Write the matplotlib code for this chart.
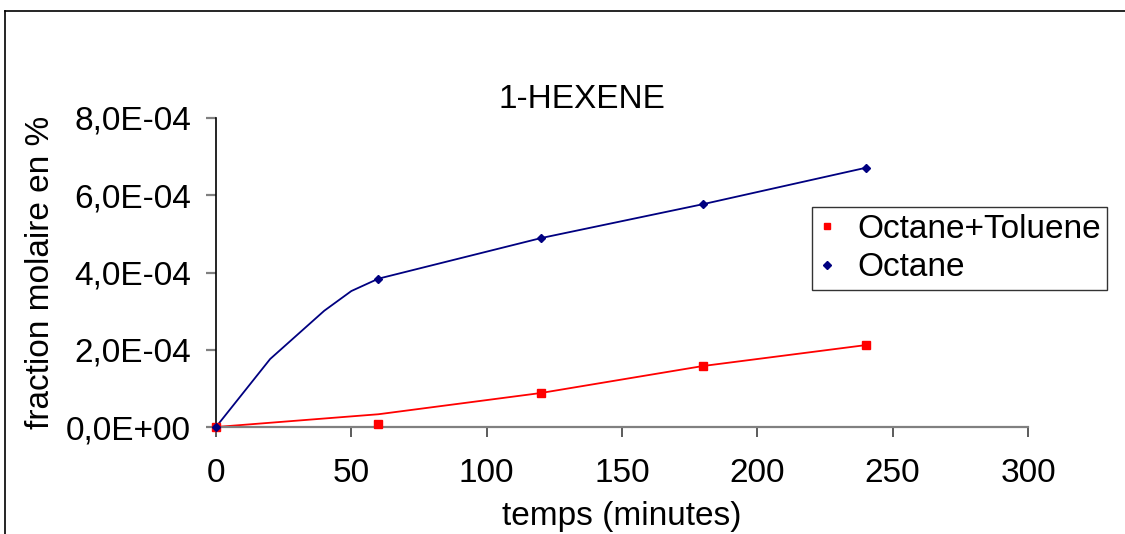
import matplotlib
matplotlib.use('Agg')
import matplotlib.pyplot as plt
from matplotlib.ticker import FuncFormatter, MultipleLocator
from matplotlib.lines import Line2D

plt.rcParams['font.family'] = ['Liberation Sans', 'DejaVu Sans']

# Octane: curve and measured points
octane_line_t = [0, 20, 40, 50, 60, 120, 180, 240]
octane_line_y = [0, 1.76e-4, 3.01e-4, 3.52e-4, 3.84e-4, 4.89e-4, 5.77e-4, 6.71e-4]
octane_pts_t = [0, 60, 120, 180, 240]
octane_pts_y = [0, 3.84e-4, 4.89e-4, 5.77e-4, 6.71e-4]

# Octane+Toluene: curve and measured points
tol_line_t = [0, 60, 120, 180, 240]
tol_line_y = [0, 0.33e-4, 0.88e-4, 1.58e-4, 2.12e-4]
tol_pts_t = [0, 60, 120, 180, 240]
tol_pts_y = [0, 0.08e-4, 0.88e-4, 1.58e-4, 2.12e-4]

W, H = 1125, 534
fig = plt.figure(figsize=(W / 100, H / 100), dpi=100)
ax = fig.add_axes([216 / W, 1 - 427 / H, (1028 - 216) / W, (427 - 118) / H])

fs = 24
red = '#ff0000'
navy = '#000080'

ax.plot(tol_line_t, tol_line_y, color=red, lw=1.3, zorder=2)
ax.plot(octane_line_t, octane_line_y, color=navy, lw=1.3, zorder=2)
ax.plot(tol_pts_t, tol_pts_y, 's', color=red, ms=6, label='Octane+Toluene', zorder=3)
ax.plot(octane_pts_t, octane_pts_y, 'D', color=navy, ms=4.5, label='Octane', zorder=4)

ax.set_xlim(0, 300)
ax.set_ylim(0, 8e-4)
ax.xaxis.set_major_locator(MultipleLocator(50))
ax.yaxis.set_major_locator(MultipleLocator(2e-4))
ax.yaxis.set_major_formatter(FuncFormatter(lambda v, p: f"{v:.1E}".replace('.', ',')))

for s in ['top', 'right']:
    ax.spines[s].set_visible(False)
ax.spines['left'].set_color('black')
ax.spines['bottom'].set_color('#808080')
ax.spines['left'].set_linewidth(1.2)
ax.spines['bottom'].set_linewidth(1.6)
for ln in ax.lines:
    ln.set_clip_on(False)

ax.tick_params(axis='y', direction='out', length=7, width=1.6, color='#808080',
               labelsize=fs, pad=11)
ax.tick_params(axis='x', direction='out', length=7, width=1.2, color='#404040',
               labelsize=fs, pad=15)

ax.set_xlabel('temps (minutes)', fontsize=fs, labelpad=9)
ax.set_ylabel('fraction molaire en %', fontsize=fs, labelpad=7)

fig.text(582 / W, 1 - 100 / H, '1-HEXENE', fontsize=fs, ha='center', va='center')

leg = ax.legend(loc='upper left', bbox_to_anchor=((812 - 216) / (1028 - 216), (427 - 207) / (427 - 118)),
                fontsize=fs, frameon=True, fancybox=False, edgecolor='black',
                handlelength=0.5, handletextpad=0.65, borderpad=0.2, labelspacing=0.23,
                borderaxespad=0, markerscale=0.8)
leg.get_frame().set_linewidth(1.0)

# outer chart border (top and left only, rest cropped)
fig.add_artist(Line2D([5 / W, 1], [1 - 11 / H, 1 - 11 / H], color='black', lw=1.2))
fig.add_artist(Line2D([5 / W, 5 / W], [0, 1 - 11 / H], color='black', lw=1.2))

fig.savefig('out.png', dpi=100)
